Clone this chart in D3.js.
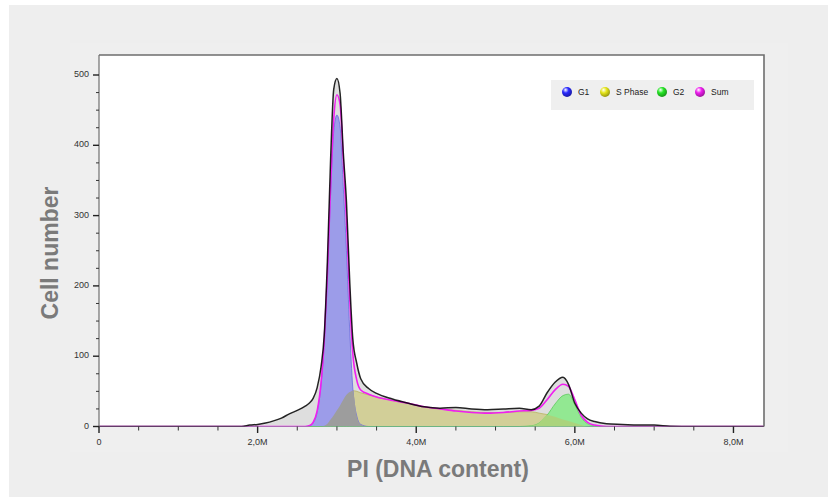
<!DOCTYPE html>
<html>
<head>
<meta charset="utf-8">
<script src="https://cdn.jsdelivr.net/npm/d3@7"></script>
<style>
  html, body { margin: 0; padding: 0; background: #ffffff; }
  svg { display: block; }
  text { font-family: "Liberation Sans", Arial, sans-serif; }
</style>
</head>
<body>
<svg id="chart" width="828" height="497"></svg>
<script>
// PI fluorescence channel (millions) for each histogram bin
const pi = [0, 1.0, 1.8, 1.9, 2.0, 2.1, 2.2, 2.3, 2.4, 2.5, 2.6, 2.65, 2.7, 2.75, 2.8, 2.84, 2.88, 2.92, 2.96, 3.0,
            3.04, 3.08, 3.12, 3.16, 3.2, 3.25, 3.3, 3.4, 3.5, 3.7, 3.9, 4.1, 4.3, 4.5, 4.7, 4.9, 5.1, 5.3, 5.45, 5.55,
            5.65, 5.75, 5.85, 5.92, 6.0, 6.08, 6.16, 6.25, 6.4, 6.6, 6.8, 7.0, 7.2, 7.5, 8.0, 8.4];

// measured histogram (cell counts)
const total = [0, 0, 0, 2, 3, 5, 8, 12, 18, 23, 29, 33, 40, 55, 85, 130, 236, 379, 480, 495,
               474, 390, 320, 210, 125, 90, 68, 54, 47, 39, 33, 28, 26, 27, 25, 24, 25, 26, 24, 29,
               48, 63, 70, 60, 33, 19, 11, 7, 4, 3, 2, 2, 0.5, 0, 0, 0];

// fitted cell-cycle components
const g1 = [0, 0, 0, 0, 0, 0, 0, 0, 0, 0, 0, 1, 5, 20, 60, 120, 212, 330, 420, 443,
            426, 341, 250, 140, 55, 15, 3, 0, 0, 0, 0, 0, 0, 0, 0, 0, 0, 0, 0, 0,
            0, 0, 0, 0, 0, 0, 0, 0, 0, 0, 0, 0, 0, 0, 0, 0];
const sPhase = [0, 0, 0, 0, 0, 0, 0, 0, 0, 0, 0, 0, 0, 0, 0, 1, 4, 10, 16, 23,
                30, 38, 45, 49, 51, 50, 48, 45, 42, 37, 33, 28, 25, 23, 21, 20, 20, 21, 21, 19,
                17, 14, 10, 8, 5, 2, 0, 0, 0, 0, 0, 0, 0, 0, 0, 0];
const g2 = [0, 0, 0, 0, 0, 0, 0, 0, 0, 0, 0, 0, 0, 0, 0, 0, 0, 0, 0, 0,
            0, 0, 0, 0, 0, 0, 0, 0, 0, 0, 0, 0, 0, 0, 0, 0, 0, 0, 1, 5,
            16, 32, 44, 46, 31, 13, 4, 1, 0, 0, 0, 0, 0, 0, 0, 0];
const sum = [0, 0, 0, 0, 0, 0, 0, 0, 0, 0, 0, 1, 6, 22, 62, 122, 218, 342, 438, 472,
             458, 380, 295, 185, 104, 66, 52, 46, 42, 37, 33, 28, 25, 22, 20, 19, 20, 22, 23, 26,
             38, 52, 60, 57, 38, 16, 6, 2, 0, 0, 0, 0, 0, 0, 0, 0];

// axis ticks
const xMajorTicks = [0, 2, 4, 6, 8];
const xTickLabels = ["0", "2,0M", "4,0M", "6,0M", "8,0M"];
const yMajorTicks = [0, 100, 200, 300, 400, 500];

const legendItems = [
  { name: "G1", color: "#2a2aff" },
  { name: "S Phase", color: "#e6e61a" },
  { name: "G2", color: "#26e626" },
  { name: "Sum", color: "#f01ef0" }
];

const svg = d3.select("#chart");

// page background
svg.append("rect").attr("x", 9).attr("y", 5).attr("width", 819).attr("height", 492).attr("fill", "#eeeeee");
svg.append("rect").attr("x", 70).attr("y", 43).attr("width", 718).attr("height", 409).attr("fill", "#efefef");

const plotLeft = 99, plotRight = 764, plotTop = 55, plotBottom = 426.5;
const x = d3.scaleLinear().domain([0, 8.385]).range([plotLeft, plotRight]);
const y = d3.scaleLinear().domain([0, 500]).range([plotBottom, 75]);

// plot area
svg.append("rect").attr("x", plotLeft).attr("y", plotTop)
  .attr("width", plotRight - plotLeft).attr("height", plotBottom - plotTop).attr("fill", "#ffffff");

svg.append("clipPath").attr("id", "plotClip")
  .append("rect").attr("x", plotLeft).attr("y", plotTop)
  .attr("width", plotRight - plotLeft).attr("height", plotBottom - plotTop);

const plot = svg.append("g").attr("clip-path", "url(#plotClip)");

const idx = d3.range(pi.length);
const curve = d3.curveMonotoneX;
const area = vals => d3.area().curve(curve).x(i => x(pi[i])).y0(y(0)).y1(i => y(vals[i]))(idx);
const line = vals => d3.line().curve(curve).x(i => x(pi[i])).y(i => y(vals[i]))(idx);

const g1S = idx.map(i => Math.min(g1[i], sPhase[i]));
const sG2 = idx.map(i => Math.min(sPhase[i], g2[i]));

plot.append("path").attr("d", area(total)).attr("fill", "#dedede");
plot.append("path").attr("d", area(sPhase)).attr("fill", "#d2cf98").attr("stroke", "#b8b45e").attr("stroke-width", 0.8);
plot.append("path").attr("d", area(g1)).attr("fill", "#9c9ce9").attr("stroke", "#6a6ae0").attr("stroke-width", 0.8);
plot.append("path").attr("d", area(g2)).attr("fill", "#92e892").attr("stroke", "#5ccc5c").attr("stroke-width", 0.8);
plot.append("path").attr("d", area(g1S)).attr("fill", "#9d9d9d");
plot.append("path").attr("d", area(sG2)).attr("fill", "#aad47c");

plot.append("path").attr("d", line(sum)).attr("fill", "none").attr("stroke", "#f01ef0").attr("stroke-width", 1.6);
plot.append("path").attr("d", line(total)).attr("fill", "none").attr("stroke", "#000000")
  .attr("stroke-opacity", 0.85).attr("stroke-width", 1.5);

// frame
svg.append("path")
  .attr("d", `M${plotLeft},${plotTop}H${plotRight}V${plotBottom}`)
  .attr("fill", "none").attr("stroke", "#6e6e6e").attr("stroke-width", 1.6);
svg.append("line").attr("x1", plotLeft).attr("x2", plotLeft).attr("y1", plotTop).attr("y2", plotBottom + 1)
  .attr("stroke", "#6e6e6e").attr("stroke-width", 1.2);

// y axis
const yAxis = svg.append("g").attr("transform", `translate(${plotLeft},0)`);
yAxis.selectAll("line.minor").data(d3.range(0, 501, 25).filter(v => v % 100 !== 0)).join("line")
  .attr("class", "minor").attr("x1", -3).attr("x2", 0).attr("y1", d => y(d)).attr("y2", d => y(d))
  .attr("stroke", "#333").attr("stroke-width", 1);
yAxis.selectAll("line.major").data(yMajorTicks).join("line")
  .attr("class", "major").attr("x1", -6).attr("x2", 0).attr("y1", d => y(d)).attr("y2", d => y(d))
  .attr("stroke", "#222").attr("stroke-width", 1.4);
yAxis.selectAll("text").data(yMajorTicks).join("text")
  .attr("x", -10).attr("y", d => y(d) - 1).attr("dy", "0.35em").attr("text-anchor", "end")
  .attr("font-size", 9).attr("fill", "#333").text(d => d);

// x axis
const xAxis = svg.append("g").attr("transform", `translate(0,${plotBottom})`);
xAxis.selectAll("line.minor").data(d3.range(0.5, 8.4, 0.5).filter(v => v % 2 !== 0)).join("line")
  .attr("class", "minor").attr("x1", d => x(d)).attr("x2", d => x(d)).attr("y1", 0).attr("y2", 4)
  .attr("stroke", "#333").attr("stroke-width", 1);
xAxis.selectAll("line.major").data(xMajorTicks).join("line")
  .attr("class", "major").attr("x1", d => x(d)).attr("x2", d => x(d)).attr("y1", 0).attr("y2", 6.5)
  .attr("stroke", "#222").attr("stroke-width", 1.4);
xAxis.selectAll("text").data(xMajorTicks).join("text")
  .attr("x", d => x(d)).attr("y", 18.5).attr("text-anchor", "middle")
  .attr("font-size", 9).attr("fill", "#333").text((d, i) => xTickLabels[i]);

// axis titles
svg.append("text").attr("x", 438).attr("y", 477).attr("text-anchor", "middle")
  .attr("font-size", 23).attr("font-weight", "bold").attr("fill", "#7a7a7a").text("PI (DNA content)");
svg.append("text").attr("transform", "translate(58,253) rotate(-90)").attr("text-anchor", "middle")
  .attr("font-size", 23).attr("font-weight", "bold").attr("fill", "#7a7a7a").text("Cell number");

// legend
const defs = svg.append("defs");
legendItems.forEach((d, i) => {
  const grad = defs.append("radialGradient").attr("id", "ball" + i)
    .attr("cx", "40%").attr("cy", "35%").attr("r", "65%").attr("fx", "35%").attr("fy", "28%");
  grad.append("stop").attr("offset", "0%").attr("stop-color", "#ffffff");
  grad.append("stop").attr("offset", "45%").attr("stop-color", d.color);
  grad.append("stop").attr("offset", "100%").attr("stop-color", d3.color(d.color).darker(1.2));
});
const legend = svg.append("g");
legend.append("rect").attr("x", 551).attr("y", 80).attr("width", 203).attr("height", 30).attr("fill", "#efefef");
const legendX = [567, 605, 662, 700];
const item = legend.selectAll("g.item").data(legendItems).join("g").attr("class", "item")
  .attr("transform", (d, i) => `translate(${legendX[i]},92)`);
item.append("circle").attr("r", 5).attr("fill", (d, i) => `url(#ball${i})`);
item.append("text").attr("x", 11).attr("dy", "0.35em").attr("font-size", 8.5).attr("fill", "#222").text(d => d.name);
</script>
</body>
</html>
